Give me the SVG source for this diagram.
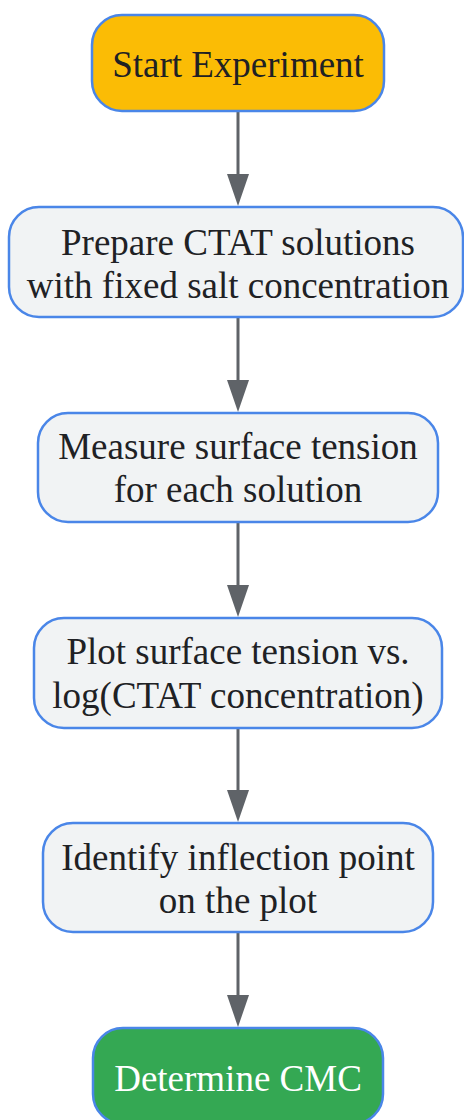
<svg xmlns="http://www.w3.org/2000/svg" width="464" height="1120" viewBox="0 0 464 1120">
<defs>
<style>
.node rect{stroke:#4a86e8;stroke-width:2.5}
.step rect{fill:#f1f3f4}
.start rect{fill:#fbbc05}
.end rect{fill:#34a853}
text{font-family:"Liberation Serif","Times New Roman",serif;font-size:37px;text-anchor:middle;fill:#202124}
.end text{fill:#ffffff}
.edge{stroke:#5f6368;stroke-width:3;fill:none;marker-end:url(#arrow)}
</style>
<marker id="arrow" markerUnits="userSpaceOnUse" markerWidth="32" markerHeight="22" refX="16" refY="11" orient="auto">
<path d="M0,0 L32,11 L0,22 z" fill="#5f6368"/>
</marker>
</defs>
<g id="connectors">
<line class="edge" x1="238" y1="111" x2="238" y2="190"/>
<line class="edge" x1="238" y1="317" x2="238" y2="396"/>
<line class="edge" x1="238" y1="522" x2="238" y2="601"/>
<line class="edge" x1="238" y1="728" x2="238" y2="806"/>
<line class="edge" x1="238" y1="932" x2="238" y2="1011"/>
</g>
<g id="start" class="node start">
<rect x="92" y="15" width="292" height="96" rx="30"/>
<text x="238" y="77">Start Experiment</text>
</g>
<g id="prepare" class="node step">
<rect x="9" y="207" width="454" height="110" rx="30"/>
<text x="238" y="255">Prepare CTAT solutions</text>
<text x="238" y="298">with fixed salt concentration</text>
</g>
<g id="measure" class="node step">
<rect x="38" y="413" width="400" height="109" rx="30"/>
<text x="238" y="459">Measure surface tension</text>
<text x="238" y="502">for each solution</text>
</g>
<g id="plot" class="node step">
<rect x="34" y="618" width="408" height="110" rx="30"/>
<text x="238" y="664">Plot surface tension vs.</text>
<text x="238" y="708">log(CTAT concentration)</text>
</g>
<g id="identify" class="node step">
<rect x="43" y="823" width="390" height="109" rx="30"/>
<text x="238" y="870">Identify inflection point</text>
<text x="238" y="913">on the plot</text>
</g>
<g id="determine" class="node end">
<rect x="93" y="1028" width="290" height="96" rx="30"/>
<text x="238" y="1091">Determine CMC</text>
</g>
</svg>
